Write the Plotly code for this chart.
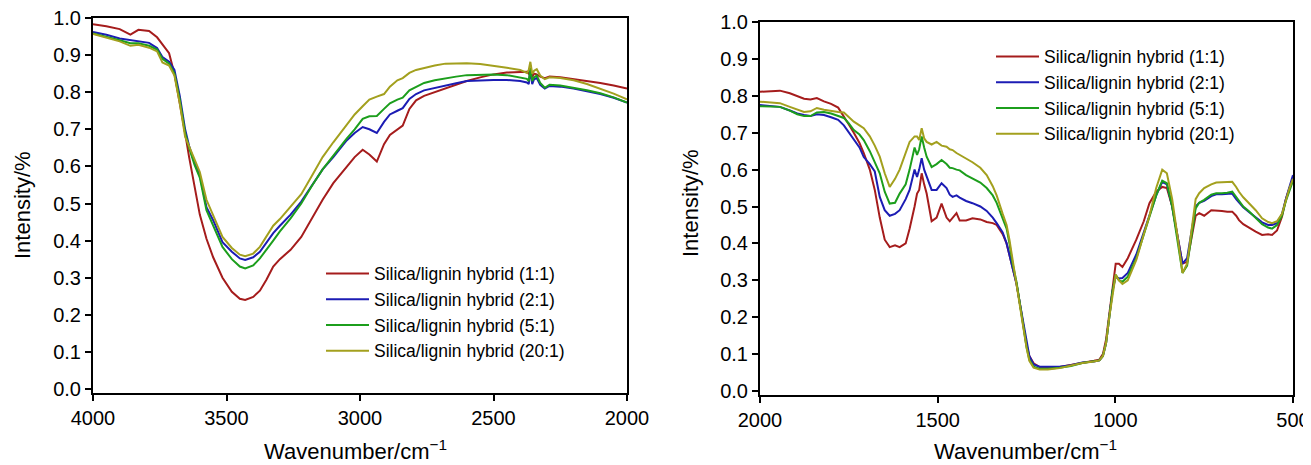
import plotly.graph_objects as go

# ---- data ----
series_names = [
    "Silica/lignin hybrid (1:1)",
    "Silica/lignin hybrid (2:1)",
    "Silica/lignin hybrid (5:1)",
    "Silica/lignin hybrid (20:1)",
]
colors = ["#A51C1C", "#1C1CB4", "#1C9E1C", "#A3A01E"]

# left panel: 4000-2000 cm-1
wn_left = [4000, 3950, 3900, 3860, 3830, 3790, 3760, 3740, 3715, 3695, 3675, 3655, 3640,
           3620, 3600, 3575, 3550, 3515, 3480, 3450, 3430, 3400, 3375, 3350, 3325, 3300,
           3260, 3220, 3180, 3140, 3100, 3050, 3020, 2990, 2965, 2937, 2910, 2888, 2860,
           2840, 2815, 2790, 2760, 2720, 2680, 2640, 2600, 2550, 2500, 2450, 2400, 2375,
           2368, 2362, 2355, 2348, 2338, 2325, 2308, 2290, 2250, 2200, 2150, 2100, 2050,
           2000]

red_left = [0.983, 0.978, 0.970, 0.955, 0.968, 0.965, 0.948, 0.928, 0.905, 0.850, 0.775,
            0.690, 0.625, 0.545, 0.470, 0.405, 0.355, 0.300, 0.262, 0.243, 0.240, 0.248,
            0.265, 0.295, 0.330, 0.350, 0.375, 0.410, 0.460, 0.510, 0.555, 0.600, 0.625,
            0.645, 0.632, 0.613, 0.660, 0.685, 0.700, 0.710, 0.755, 0.778, 0.790, 0.800,
            0.810, 0.820, 0.830, 0.840, 0.848, 0.853, 0.855, 0.855, 0.850, 0.860, 0.840,
            0.850, 0.848, 0.842, 0.838, 0.842, 0.840, 0.835, 0.830, 0.825, 0.818, 0.810]

blue_left = [0.962, 0.955, 0.945, 0.940, 0.937, 0.933, 0.919, 0.895, 0.882, 0.860, 0.790,
             0.700, 0.655, 0.610, 0.577, 0.490, 0.455, 0.396, 0.370, 0.352, 0.348, 0.355,
             0.370, 0.395, 0.420, 0.440, 0.470, 0.505, 0.550, 0.592, 0.625, 0.670, 0.690,
             0.706, 0.700, 0.690, 0.720, 0.740, 0.750, 0.757, 0.782, 0.795, 0.805, 0.812,
             0.818, 0.824, 0.830, 0.832, 0.833, 0.833, 0.830, 0.826, 0.822, 0.860, 0.822,
             0.835, 0.838, 0.820, 0.810, 0.817, 0.815, 0.810, 0.803, 0.795, 0.785, 0.772]

green_left = [0.958, 0.950, 0.940, 0.932, 0.932, 0.925, 0.915, 0.890, 0.877, 0.850, 0.780,
              0.690, 0.650, 0.605, 0.570, 0.482, 0.440, 0.383, 0.350, 0.330, 0.325, 0.333,
              0.352, 0.375, 0.400, 0.425, 0.460, 0.500, 0.548, 0.592, 0.630, 0.675, 0.700,
              0.728, 0.735, 0.736, 0.755, 0.770, 0.780, 0.785, 0.805, 0.815, 0.825, 0.832,
              0.838, 0.842, 0.846, 0.848, 0.848, 0.846, 0.840, 0.836, 0.830, 0.865, 0.830,
              0.840, 0.845, 0.825, 0.812, 0.820, 0.818, 0.812, 0.805, 0.797, 0.786, 0.772]

olive_left = [0.957, 0.948, 0.937, 0.925, 0.928, 0.920, 0.910, 0.880, 0.872, 0.845, 0.770,
              0.680, 0.655, 0.620, 0.585, 0.510, 0.470, 0.410, 0.380, 0.362, 0.358, 0.365,
              0.383, 0.410, 0.440, 0.458, 0.490, 0.525, 0.575, 0.625, 0.665, 0.712, 0.740,
              0.762, 0.780, 0.788, 0.795, 0.815, 0.832, 0.838, 0.852, 0.860, 0.866, 0.872,
              0.877, 0.878, 0.878, 0.876, 0.872, 0.866, 0.860, 0.852, 0.860, 0.882, 0.850,
              0.858, 0.862, 0.845, 0.835, 0.840, 0.838, 0.832, 0.822, 0.810, 0.796, 0.781]

# right panel: 2000-500 cm-1
wn_right = [2000, 1970, 1944, 1916, 1895, 1876, 1858, 1840, 1820, 1800, 1780, 1764, 1750,
            1736, 1720, 1708, 1691, 1677, 1663, 1649, 1635, 1620, 1607, 1590, 1579, 1565,
            1558, 1552, 1545, 1538, 1531, 1517, 1503, 1489, 1475, 1466, 1458, 1447, 1438,
            1420, 1402, 1380, 1362, 1345, 1334, 1317, 1306, 1298, 1289, 1278, 1270, 1261,
            1256, 1250, 1242, 1230, 1213, 1190, 1157, 1125, 1093, 1060, 1045, 1035, 1026,
            1017, 1008, 999, 990, 980, 965, 941, 920, 904, 885, 868, 855, 840, 825, 811,
            798, 784, 774, 764, 750, 730, 716, 700, 685, 671, 660, 652, 640, 624, 605, 587,
            570, 559, 545, 531, 520, 510, 500]

red_right = [0.811, 0.812, 0.814, 0.807, 0.800, 0.792, 0.790, 0.794, 0.785, 0.778, 0.768,
             0.745, 0.722, 0.700, 0.672, 0.645, 0.600, 0.545, 0.470, 0.410, 0.390, 0.395,
             0.390, 0.400, 0.440, 0.500, 0.535, 0.545, 0.590, 0.560, 0.535, 0.460, 0.470,
             0.508, 0.470, 0.460, 0.470, 0.482, 0.462, 0.462, 0.468, 0.465, 0.458, 0.455,
             0.450, 0.425, 0.400, 0.370, 0.330, 0.290, 0.245, 0.195, 0.160, 0.125, 0.095,
             0.075, 0.065, 0.063, 0.065, 0.070, 0.077, 0.082, 0.085, 0.100, 0.140, 0.210,
             0.290, 0.345, 0.345, 0.336, 0.360, 0.410, 0.460, 0.509, 0.540, 0.553, 0.550,
             0.500, 0.420, 0.345, 0.350, 0.430, 0.475, 0.482, 0.475, 0.490, 0.490, 0.488,
             0.486, 0.486, 0.475, 0.463, 0.452, 0.442, 0.432, 0.423, 0.425, 0.423, 0.435,
             0.472, 0.520, 0.550, 0.572]

blue_right = [0.775, 0.773, 0.770, 0.760, 0.752, 0.748, 0.745, 0.750, 0.748, 0.742, 0.735,
              0.720, 0.700, 0.680, 0.660, 0.634, 0.615, 0.595, 0.526, 0.490, 0.475, 0.480,
              0.490, 0.520, 0.545, 0.600, 0.580, 0.600, 0.631, 0.600, 0.580, 0.545, 0.545,
              0.563, 0.550, 0.532, 0.526, 0.530, 0.524, 0.515, 0.509, 0.500, 0.488, 0.470,
              0.455, 0.430, 0.400, 0.370, 0.330, 0.290, 0.245, 0.195, 0.162, 0.128, 0.095,
              0.072, 0.066, 0.066, 0.066, 0.070, 0.077, 0.080, 0.083, 0.095, 0.130, 0.200,
              0.270, 0.310, 0.305, 0.306, 0.320, 0.370, 0.430, 0.475, 0.530, 0.567, 0.560,
              0.500, 0.420, 0.345, 0.360, 0.440, 0.500, 0.510, 0.515, 0.528, 0.533, 0.533,
              0.533, 0.535, 0.520, 0.510, 0.498, 0.485, 0.470, 0.457, 0.450, 0.450, 0.455,
              0.480, 0.520, 0.555, 0.585]

green_right = [0.772, 0.770, 0.770, 0.760, 0.750, 0.745, 0.745, 0.755, 0.756, 0.752, 0.745,
               0.740, 0.725, 0.707, 0.695, 0.680, 0.650, 0.620, 0.590, 0.540, 0.508, 0.510,
               0.535, 0.560, 0.600, 0.660, 0.640, 0.655, 0.690, 0.660, 0.635, 0.607, 0.615,
               0.626, 0.615, 0.605, 0.604, 0.600, 0.598, 0.585, 0.577, 0.565, 0.550, 0.530,
               0.510, 0.470, 0.440, 0.400, 0.345, 0.295, 0.245, 0.190, 0.155, 0.120, 0.085,
               0.066, 0.060, 0.060, 0.063, 0.068, 0.076, 0.080, 0.083, 0.095, 0.130, 0.200,
               0.270, 0.315, 0.300, 0.296, 0.310, 0.360, 0.425, 0.472, 0.530, 0.570, 0.563,
               0.500, 0.410, 0.320, 0.340, 0.430, 0.495, 0.510, 0.518, 0.532, 0.536, 0.536,
               0.537, 0.540, 0.525, 0.515, 0.500, 0.487, 0.470, 0.452, 0.443, 0.440, 0.450,
               0.475, 0.515, 0.545, 0.570]

olive_right = [0.784, 0.782, 0.780, 0.770, 0.762, 0.756, 0.758, 0.767, 0.762, 0.758, 0.756,
               0.755, 0.742, 0.730, 0.720, 0.712, 0.690, 0.665, 0.635, 0.590, 0.553, 0.575,
               0.600, 0.645, 0.675, 0.690, 0.690, 0.680, 0.712, 0.685, 0.675, 0.668, 0.675,
               0.665, 0.662, 0.655, 0.653, 0.645, 0.640, 0.630, 0.620, 0.605, 0.585, 0.555,
               0.530, 0.480, 0.450, 0.410, 0.355, 0.300, 0.245, 0.190, 0.155, 0.118, 0.082,
               0.063, 0.058, 0.058, 0.062, 0.068, 0.076, 0.080, 0.083, 0.095, 0.130, 0.200,
               0.265, 0.315, 0.300, 0.290, 0.300, 0.355, 0.425, 0.475, 0.550, 0.600, 0.590,
               0.520, 0.420, 0.320, 0.345, 0.450, 0.520, 0.536, 0.550, 0.560, 0.565, 0.566,
               0.566, 0.567, 0.553, 0.540, 0.525, 0.509, 0.490, 0.468, 0.458, 0.455, 0.460,
               0.480, 0.520, 0.550, 0.575]

left_values = [red_left, blue_left, green_left, olive_left]
right_values = [red_right, blue_right, green_right, olive_right]

# the page body keeps its default 8px margin, so the figure is drawn 8px in
# from the top-left corner of the window; shrink it and place things with that in mind
OFF = 8
W, H = 1311 - OFF, 465 - OFF
FONT = "Liberation Sans, Arial, sans-serif"


def px(x):
    return (x - OFF) / W


def py(y):
    return (H - (y - OFF)) / H


fig = go.Figure()

for name, color, vals in zip(series_names, colors, left_values):
    fig.add_trace(go.Scatter(x=wn_left, y=vals, mode="lines", name=name,
                             line=dict(color=color, width=2),
                             xaxis="x", yaxis="y", legend="legend"))

for name, color, vals in zip(series_names, colors, right_values):
    fig.add_trace(go.Scatter(x=wn_right, y=vals, mode="lines", name=name,
                             line=dict(color=color, width=2),
                             xaxis="x2", yaxis="y2", legend="legend2"))

axis_style = dict(showline=True, linecolor="black", linewidth=2, mirror=True,
                  ticks="outside", ticklen=6, tickwidth=1.5, tickcolor="black",
                  showgrid=False, zeroline=False, automargin=False,
                  ticklabeloverflow="allow",
                  tickfont=dict(family=FONT, size=20, color="black"))

legend_style = dict(bgcolor="rgba(0,0,0,0)", borderwidth=0, itemwidth=43,
                    font=dict(family=FONT, size=17.5, color="black"),
                    xanchor="left", yanchor="middle", tracegroupgap=0)

fig.update_layout(
    width=W, height=H,
    margin=dict(l=0, r=0, t=0, b=0),
    paper_bgcolor="white", plot_bgcolor="white",
    showlegend=True,
    xaxis=dict(domain=[px(93), px(627)], range=[4000, 2000], anchor="y",
               tickvals=[4000, 3500, 3000, 2500, 2000], **axis_style),
    yaxis=dict(domain=[py(392.7), py(18)], range=[-0.01, 1.0], anchor="x",
               dtick=0.1, tick0=0, tickformat=".1f", **axis_style),
    xaxis2=dict(domain=[px(760), px(1293)], range=[2000, 500], anchor="y2",
                tickvals=[2000, 1500, 1000, 500], **axis_style),
    yaxis2=dict(domain=[py(394.7), py(22)], range=[-0.01, 1.0], anchor="x2",
                dtick=0.1, tick0=0, tickformat=".1f", **axis_style),
    legend=dict(x=px(321), y=py(312), **legend_style),
    legend2=dict(x=px(991), y=py(95), **legend_style),
)

title_font = dict(family=FONT, size=22, color="black")
for x, y, txt, ang in [
    (22, 205, "Intensity/%", -90),
    (690, 203, "Intensity/%", -90),
    (355, 450, "Wavenumber/cm<sup>−1</sup>", 0),
    (1025, 450, "Wavenumber/cm<sup>−1</sup>", 0),
]:
    fig.add_annotation(x=px(x), y=py(y), xref="paper", yref="paper",
                       text=txt, textangle=ang, showarrow=False,
                       xanchor="center", yanchor="middle", font=title_font)

fig.write_html("out.html")
